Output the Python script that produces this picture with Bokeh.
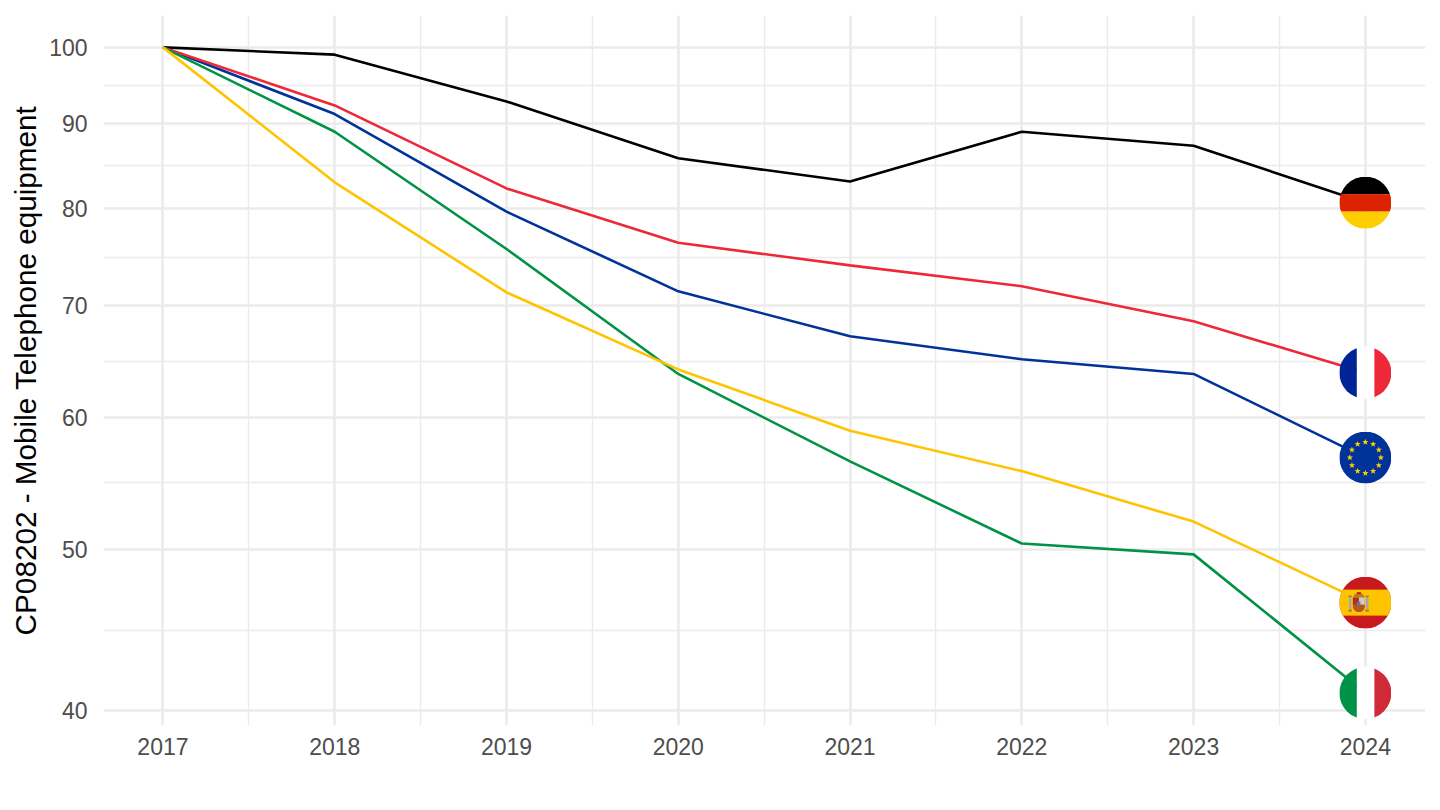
import base64
import math
from bokeh.plotting import figure
from bokeh.embed import file_html
from bokeh.resources import INLINE
from bokeh.models import FixedTicker, Range1d

years = [2017, 2018, 2019, 2020, 2021, 2022, 2023, 2024]
half_years = [2017.5, 2018.5, 2019.5, 2020.5, 2021.5, 2022.5, 2023.5]
y_ticks = [40, 50, 60, 70, 80, 90, 100]
y_minor = [44.7, 54.8, 64.8, 74.8, 84.9, 94.9]

germany = [100, 99.0, 92.8, 85.8, 83.1, 89.0, 87.3, 80.7]
france = [100, 92.3, 82.3, 76.35, 74.0, 71.9, 68.5, 63.8]
euro_area = [100, 91.2, 79.7, 71.4, 67.1, 65.0, 63.7, 56.75]
spain = [100, 83.0, 71.3, 64.1, 58.9, 55.7, 51.95, 46.45]
italy = [100, 89.0, 75.7, 63.7, 56.45, 50.4, 49.65, 41.0]

colors = {"de": "#000000", "fr": "#ED2939", "eu": "#003399", "es": "#FFC400", "it": "#009246"}
series = [("de", germany), ("eu", euro_area), ("fr", france), ("it", italy), ("es", spain)]


def star(cx, cy, r):
    pts = []
    for i in range(10):
        a = -math.pi / 2 + i * math.pi / 5
        rr = r if i % 2 == 0 else r * 0.42
        pts.append(f"{cx + rr * math.cos(a):.2f},{cy + rr * math.sin(a):.2f}")
    return f'<polygon points="{" ".join(pts)}" fill="#FFCC00"/>'


def flag_svg(code):
    if code == "de":
        body = ('<rect width="104" height="35" fill="#000"/>'
                '<rect y="35" width="104" height="35" fill="#DD2200"/>'
                '<rect y="70" width="104" height="34" fill="#FFCE00"/>')
    elif code == "fr":
        body = ('<rect width="35" height="104" fill="#002395"/>'
                '<rect x="35" width="35" height="104" fill="#fff"/>'
                '<rect x="70" width="34" height="104" fill="#ED2939"/>')
    elif code == "it":
        body = ('<rect width="35" height="104" fill="#009246"/>'
                '<rect x="35" width="35" height="104" fill="#fff"/>'
                '<rect x="70" width="34" height="104" fill="#CE2B37"/>')
    elif code == "es":
        body = ('<rect width="104" height="104" fill="#C8191E"/>'
                '<rect y="26" width="104" height="52" fill="#FFC400"/>'
                '<rect x="19" y="41" width="5" height="25" fill="#A8A8A8"/>'
                '<rect x="53" y="41" width="5" height="25" fill="#A8A8A8"/>'
                '<rect x="18" y="38" width="7" height="3" fill="#B08020"/>'
                '<rect x="52" y="38" width="7" height="3" fill="#B08020"/>'
                '<rect x="18" y="66" width="7" height="4" fill="#B08020"/>'
                '<rect x="52" y="66" width="7" height="4" fill="#B08020"/>'
                '<path d="M27 42h24v17c0 8-6 12-12 12s-12-4-12-12z" fill="#B5561F"/>'
                '<rect x="39" y="42" width="12" height="14" fill="#D6C6D4"/>'
                '<rect x="27" y="42" width="12" height="14" fill="#B0301E"/>'
                '<rect x="35" y="50" width="7" height="8" fill="#6A6FA8"/>'
                '<path d="M28 41c1-11 21-11 22 0z" fill="#B08020"/>'
                '<rect x="35" y="31" width="8" height="4" fill="#C8191E"/>')
    else:
        body = '<rect width="104" height="104" fill="#003399"/>'
        for i in range(12):
            a = i * math.pi / 6
            body += star(52 + 31 * math.sin(a), 52 - 31 * math.cos(a), 6.5)
    svg = ('<svg xmlns="http://www.w3.org/2000/svg" width="104" height="104" viewBox="0 0 104 104">'
           '<defs><clipPath id="c"><circle cx="52" cy="52" r="52"/></clipPath></defs>'
           f'<g clip-path="url(#c)">{body}</g></svg>')
    return "data:image/svg+xml;base64," + base64.b64encode(svg.encode()).decode()


p = figure(width=1440, height=810, output_backend="svg", toolbar_location=None,
           y_axis_type="log", x_range=Range1d(2016.654, 2024.35), y_range=Range1d(39.2, 104.5),
           min_border_left=103, min_border_right=15, min_border_top=15, min_border_bottom=85,
           background_fill_color="white", border_fill_color="white")
p.outline_line_color = None

p.xaxis.ticker = FixedTicker(ticks=years)
p.yaxis.ticker = FixedTicker(ticks=y_ticks)
p.yaxis.major_label_overrides = {v: str(v) for v in y_ticks}
p.xgrid.ticker = FixedTicker(ticks=years, minor_ticks=half_years)
p.ygrid.ticker = FixedTicker(ticks=y_ticks, minor_ticks=y_minor)

for g in (p.xgrid, p.ygrid):
    g.grid_line_color = "#EBEBEB"
    g.grid_line_width = 2.6
    g.minor_grid_line_color = "#EBEBEB"
    g.minor_grid_line_width = 1.4

for ax in (p.xaxis, p.yaxis):
    ax.axis_line_color = None
    ax.major_tick_line_color = None
    ax.minor_tick_line_color = None
    ax.major_tick_in = 0
    ax.major_tick_out = 0
    ax.minor_tick_in = 0
    ax.minor_tick_out = 0
    ax.major_label_text_color = "#4D4D4D"
    ax.major_label_text_font = "Liberation Sans"
    ax.major_label_text_font_size = "23px"

p.xaxis.major_label_standoff = 12
p.yaxis.major_label_standoff = 16
p.yaxis.axis_label = "CP08202 - Mobile Telephone equipment"
p.yaxis.axis_label_text_font = "Liberation Sans"
p.yaxis.axis_label_text_font_style = "normal"
p.yaxis.axis_label_text_font_size = "29.7px"
p.yaxis.axis_label_text_color = "#000000"
p.yaxis.axis_label_standoff = 4

for code, vals in series:
    p.line(years, vals, line_color=colors[code], line_width=2.6)

for code, vals in series:
    p.image_url(url=[flag_svg(code)], x=[years[-1]], y=[vals[-1]], w=[52], h=[52],
                w_units="screen", h_units="screen", anchor="center")

open("out.html", "w").write(file_html(p, INLINE))
